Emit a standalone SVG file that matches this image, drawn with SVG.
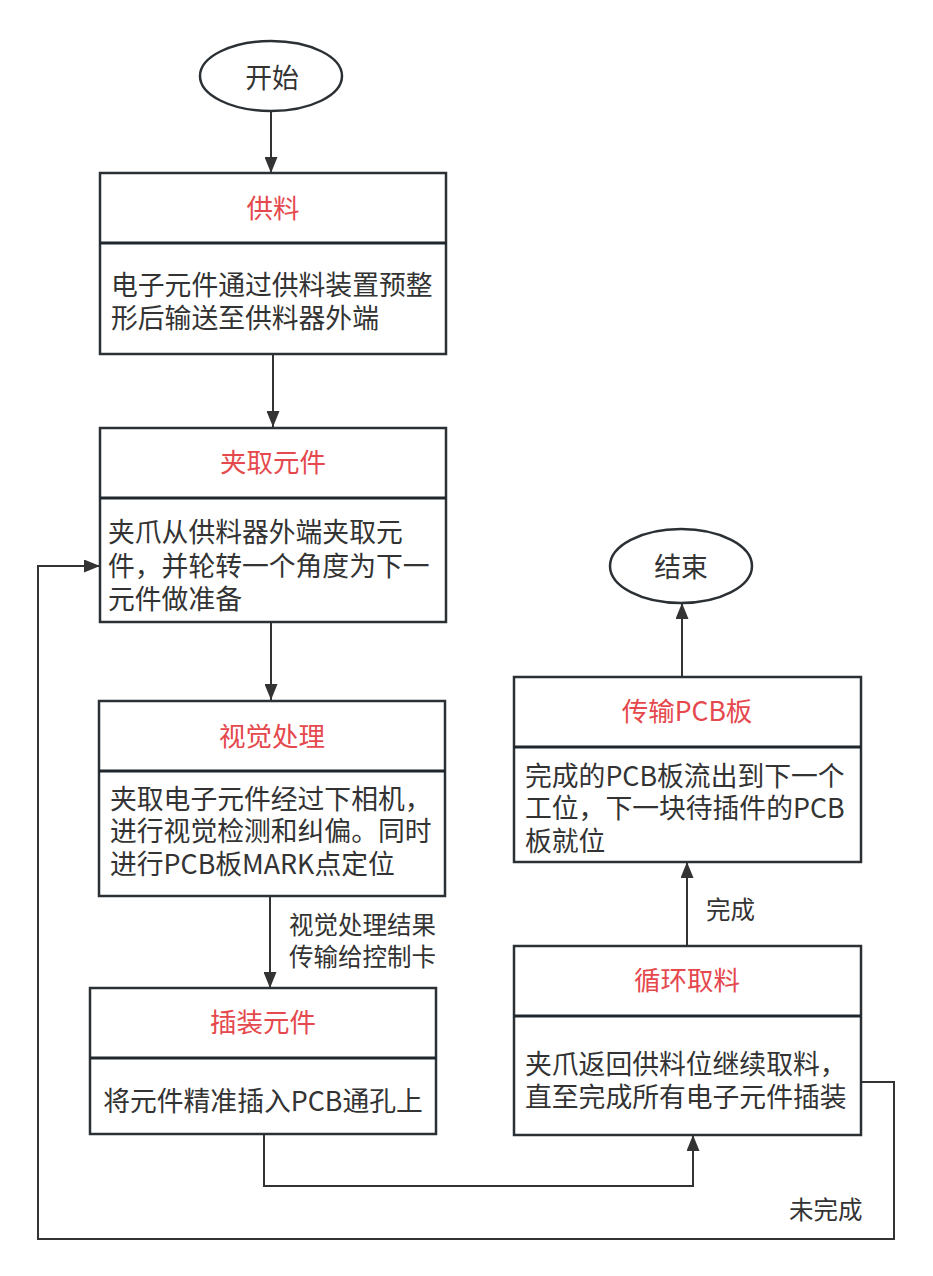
<svg xmlns="http://www.w3.org/2000/svg" width="933" height="1276" viewBox="0 0 933 1276">
<style>
text{font-family:"Noto Sans CJK SC","Noto Sans",sans-serif;fill:#333}
.t{font-size:26.5px;fill:#e5484d;text-anchor:middle}
.b{font-size:26.8px}
.c{text-anchor:middle}
.l{font-size:24.5px}
.box{fill:#fff;stroke:#2b3035;stroke-width:2.5}
.div{stroke:#1f262c;stroke-width:3}
.e{fill:#fff;stroke:#2b3035;stroke-width:2.5}
.cn{fill:none;stroke:#333;stroke-width:2}
</style>
<defs>
<marker id="ar" markerUnits="userSpaceOnUse" markerWidth="16" markerHeight="13" refX="16" refY="6.5" orient="auto">
<path d="M0,0 L16,6.5 L0,13 z" fill="#333"/>
</marker>
</defs>
<rect width="933" height="1276" fill="#fff"/>
<g id="connectors">
<path class="cn" d="M271,111 V173" marker-end="url(#ar)"/>
<path class="cn" d="M273,354 V427" marker-end="url(#ar)"/>
<path class="cn" d="M271,622 V700" marker-end="url(#ar)"/>
<path class="cn" d="M270,896 V988" marker-end="url(#ar)"/>
<path class="cn" d="M264,1134 V1186 H693 V1135" marker-end="url(#ar)"/>
<path class="cn" d="M861,1082 H894 V1239 H38 V566 H100" marker-end="url(#ar)"/>
<path class="cn" d="M687,945 V862" marker-end="url(#ar)"/>
<path class="cn" d="M682,676 V603" marker-end="url(#ar)"/>
<text class="l" x="289" y="934">视觉处理结果</text>
<text class="l" x="289" y="966">传输给控制卡</text>
<text class="l" x="706" y="919">完成</text>
<text class="l" x="789" y="1219">未完成</text>
</g>
<g id="start">
<ellipse class="e" cx="271" cy="76" rx="71" ry="35"/>
<text class="b c" x="272" y="88">开始</text>
</g>
<g id="feed">
<rect class="box" x="100" y="173" width="346" height="181"/>
<line class="div" x1="100" y1="243" x2="446" y2="243"/>
<text class="t" x="273" y="218">供料</text>
<text class="b" x="111" y="295">电子元件通过供料装置预整</text>
<text class="b" x="111" y="328">形后输送至供料器外端</text>
</g>
<g id="pick">
<rect class="box" x="100" y="428" width="346" height="194"/>
<line class="div" x1="100" y1="498" x2="446" y2="498"/>
<text class="t" x="273" y="472">夹取元件</text>
<text class="b" x="108" y="542">夹爪从供料器外端夹取元</text>
<text class="b" x="108" y="576">件，并轮转一个角度为下一</text>
<text class="b" x="108" y="609">元件做准备</text>
</g>
<g id="vision">
<rect class="box" x="99" y="701" width="346" height="195"/>
<line class="div" x1="99" y1="771" x2="445" y2="771"/>
<text class="t" x="272" y="746">视觉处理</text>
<text class="b" x="110" y="809">夹取电子元件经过下相机，</text>
<text class="b" x="110" y="841">进行视觉检测和纠偏。同时</text>
<text class="b" x="110" y="874">进行PCB板MARK点定位</text>
</g>
<g id="insert">
<rect class="box" x="90" y="988" width="346" height="146"/>
<line class="div" x1="90" y1="1058" x2="436" y2="1058"/>
<text class="t" x="263" y="1032">插装元件</text>
<text class="b c" x="263" y="1111">将元件精准插入PCB通孔上</text>
</g>
<g id="loop">
<rect class="box" x="514" y="946" width="347" height="189"/>
<line class="div" x1="514" y1="1016" x2="861" y2="1016"/>
<text class="t" x="687" y="990">循环取料</text>
<text class="b" x="525" y="1074">夹爪返回供料位继续取料，</text>
<text class="b" x="525" y="1107">直至完成所有电子元件插装</text>
</g>
<g id="transfer">
<rect class="box" x="514" y="677" width="347" height="185"/>
<line class="div" x1="514" y1="747" x2="861" y2="747"/>
<text class="t" x="687" y="721">传输PCB板</text>
<text class="b" x="525" y="786">完成的PCB板流出到下一个</text>
<text class="b" x="525" y="818">工位，下一块待插件的PCB</text>
<text class="b" x="525" y="851">板就位</text>
</g>
<g id="end">
<ellipse class="e" cx="681" cy="566" rx="71" ry="37"/>
<text class="b c" x="681" y="577">结束</text>
</g>
</svg>
